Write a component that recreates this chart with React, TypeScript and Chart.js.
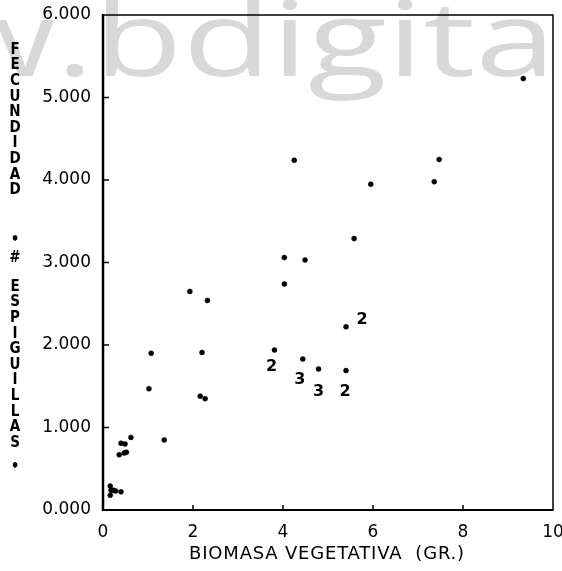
import React, { useEffect, useRef } from "react";
import { Chart, registerables } from "chart.js";

Chart.register(...registerables);

// ---- data ----
const biomasa = [
  0.16, 0.18, 0.23, 0.16, 0.28, 0.4, 0.36, 0.47, 0.52, 0.4, 0.49, 0.62, 1.36, 1.02, 1.07,
  2.16, 2.27, 2.2, 1.93, 2.32, 4.03, 4.03, 4.49, 4.25, 3.81, 4.44, 4.79, 5.4, 5.4, 5.58,
  5.95, 7.36, 7.47, 9.34,
];
const fecundidad = [
  0.29, 0.24, 0.24, 0.18, 0.23, 0.22, 0.67, 0.69, 0.7, 0.81, 0.8, 0.88, 0.85, 1.47, 1.9,
  1.38, 1.35, 1.91, 2.65, 2.54, 2.74, 3.06, 3.03, 4.24, 1.94, 1.83, 1.71, 1.69, 2.22, 3.29,
  3.95, 3.98, 4.25, 5.23,
];
const pointTags = [
  "", "", "", "", "", "", "", "", "", "", "", "", "", "", "",
  "", "", "", "", "", "", "", "", "", "2", "3", "3", "2", "2", "",
  "", "", "", "",
];
const xTickLabels = ["0", "2", "4", "6", "8", "10"];
const yTickLabels = ["0.000", "1.000", "2.000", "3.000", "4.000", "5.000", "6.000"];
const xTitle = "BIOMASA VEGETATIVA  (GR.)";
const yTitleTop = "FECUNDIDAD";
const yTitleMid = ["•", "#"];
const yTitleBottom = "ESPIGUILLAS";
const yTitleEnd = "•";
const watermarkHead = "www.";
const watermarkTail = "bdigital.unal.edu.co";
const watermarkVisible = "bdigita";

// tag offsets (px) relative to the point, by index
const tagOffsets: Record<number, [number, number]> = {
  24: [-3, 17],
  25: [-3, 21],
  26: [0, 23],
  27: [-1, 21],
  28: [16, -7],
};

const decor = {
  id: "decor",
  beforeDraw(chart: any) {
    const ctx = chart.ctx;
    ctx.save();
    ctx.fillStyle = "#ffffff";
    ctx.fillRect(0, 0, chart.width, chart.height);
    ctx.fillStyle = "#d8d8d8";
    ctx.font = "104px 'Open Sans', 'Noto Sans', sans-serif";
    ctx.textBaseline = "alphabetic";
    ctx.textAlign = "left";
    const m = ctx.measureText(watermarkVisible);
    const inkL = -m.actualBoundingBoxLeft;
    const inkR = m.actualBoundingBoxRight;
    const sx = 440 / (inkR - inkL);
    ctx.translate(105 - sx * inkL, 76);
    ctx.scale(sx, 1);
    ctx.fillText(watermarkTail, 0, 0);
    ctx.textAlign = "right";
    ctx.fillText(watermarkHead, 0, 0);
    ctx.restore();
  },
  afterDraw(chart: any) {
    const ctx = chart.ctx;
    const { left, right, top, bottom } = chart.chartArea;
    const xs = chart.scales.x;
    const ys = chart.scales.y;
    ctx.save();
    ctx.strokeStyle = "#000";
    // frame
    ctx.lineWidth = 1.5;
    ctx.beginPath();
    ctx.moveTo(left, top);
    ctx.lineTo(right, top);
    ctx.lineTo(right, bottom);
    ctx.stroke();
    ctx.lineWidth = 2.5;
    ctx.beginPath();
    ctx.moveTo(left, top - 1);
    ctx.lineTo(left, bottom + 1);
    ctx.stroke();
    ctx.lineWidth = 2;
    ctx.beginPath();
    ctx.moveTo(left, bottom);
    ctx.lineTo(right + 0.75, bottom);
    ctx.stroke();
    // inward ticks
    ctx.lineWidth = 1.5;
    ys.ticks.forEach((t: any) => {
      if (t.value <= 0 || t.value >= 6) return;
      const py = ys.getPixelForValue(t.value);
      ctx.beginPath();
      ctx.moveTo(left, py);
      ctx.lineTo(left + 6, py);
      ctx.stroke();
    });
    xs.ticks.forEach((t: any) => {
      if (t.value <= 0 || t.value >= 10) return;
      const px = xs.getPixelForValue(t.value);
      ctx.beginPath();
      ctx.moveTo(px, bottom);
      ctx.lineTo(px, bottom - 5);
      ctx.stroke();
    });
    // y title (stacked letters)
    ctx.fillStyle = "#000";
    ctx.font = "bold 15px 'Liberation Sans Narrow', 'DejaVu Sans Condensed', sans-serif";
    ctx.textAlign = "center";
    ctx.textBaseline = "middle";
    const step = 15.6;
    yTitleTop.split("").forEach((c, i) => ctx.fillText(c, 15, 50 + i * step));
    ctx.fillText(yTitleMid[0], 15, 240);
    ctx.fillText(yTitleMid[1], 15, 258);
    yTitleBottom.split("").forEach((c, i) => ctx.fillText(c, 15, 287 + i * step));
    ctx.fillText(yTitleEnd, 15, 467);
    // x title
    ctx.font = "18px 'DejaVu Sans'";
    (ctx as any).letterSpacing = "0.8px";
    ctx.fillText(xTitle, 327, 554);
    (ctx as any).letterSpacing = "0px";
    // point tags
    ctx.font = "bold 16px 'DejaVu Sans'";
    const meta = chart.getDatasetMeta(0);
    pointTags.forEach((tag, i) => {
      if (!tag) return;
      const el = meta.data[i];
      const off = tagOffsets[i] || [0, 20];
      ctx.fillText(tag, el.x + off[0], el.y + off[1]);
    });
    ctx.restore();
  },
};

export default function App() {
  const ref = useRef<HTMLCanvasElement | null>(null);
  useEffect(() => {
    if (!ref.current) return;
    const chart = new Chart(ref.current, {
      type: "scatter",
      data: {
        datasets: [
          {
            data: biomasa.map((x, i) => ({ x, y: fecundidad[i] })),
            backgroundColor: "#000",
            borderColor: "#000",
            pointRadius: 2.5,
            pointBorderWidth: 0.5,
          },
        ],
      },
      options: {
        responsive: false,
        animation: false,
        events: [],
        layout: { padding: { top: 15, right: 9, left: 0, bottom: 0 } },
        plugins: { legend: { display: false }, tooltip: { enabled: false } },
        scales: {
          x: {
            type: "linear",
            min: 0,
            max: 10,
            grid: { display: false, drawTicks: false },
            border: { display: false },
            ticks: {
              stepSize: 2,
              color: "#000",
              padding: 12,
              font: { family: "'DejaVu Sans'", size: 17 },
              callback: (_v: any, i: number) => xTickLabels[i],
            },
            afterFit: (s: any) => {
              s.height = 61;
              s.paddingRight = 9;
              s.paddingLeft = 0;
            },
          },
          y: {
            type: "linear",
            min: 0,
            max: 6,
            grid: { display: false, drawTicks: false },
            border: { display: false },
            ticks: {
              stepSize: 1,
              color: "#000",
              padding: 12,
              font: { family: "'DejaVu Sans'", size: 17 },
              callback: (_v: any, i: number) => yTickLabels[i],
            },
            afterFit: (s: any) => {
              s.width = 103;
              s.paddingTop = 15;
              s.paddingBottom = 0;
            },
          },
        },
      },
      plugins: [decor],
    });
    return () => chart.destroy();
  }, []);
  return (
    <div style={{ position: "fixed", left: 0, top: 0, width: 562, height: 571 }}>
      <canvas ref={ref} width={562} height={571} style={{ display: "block" }} />
    </div>
  );
}
